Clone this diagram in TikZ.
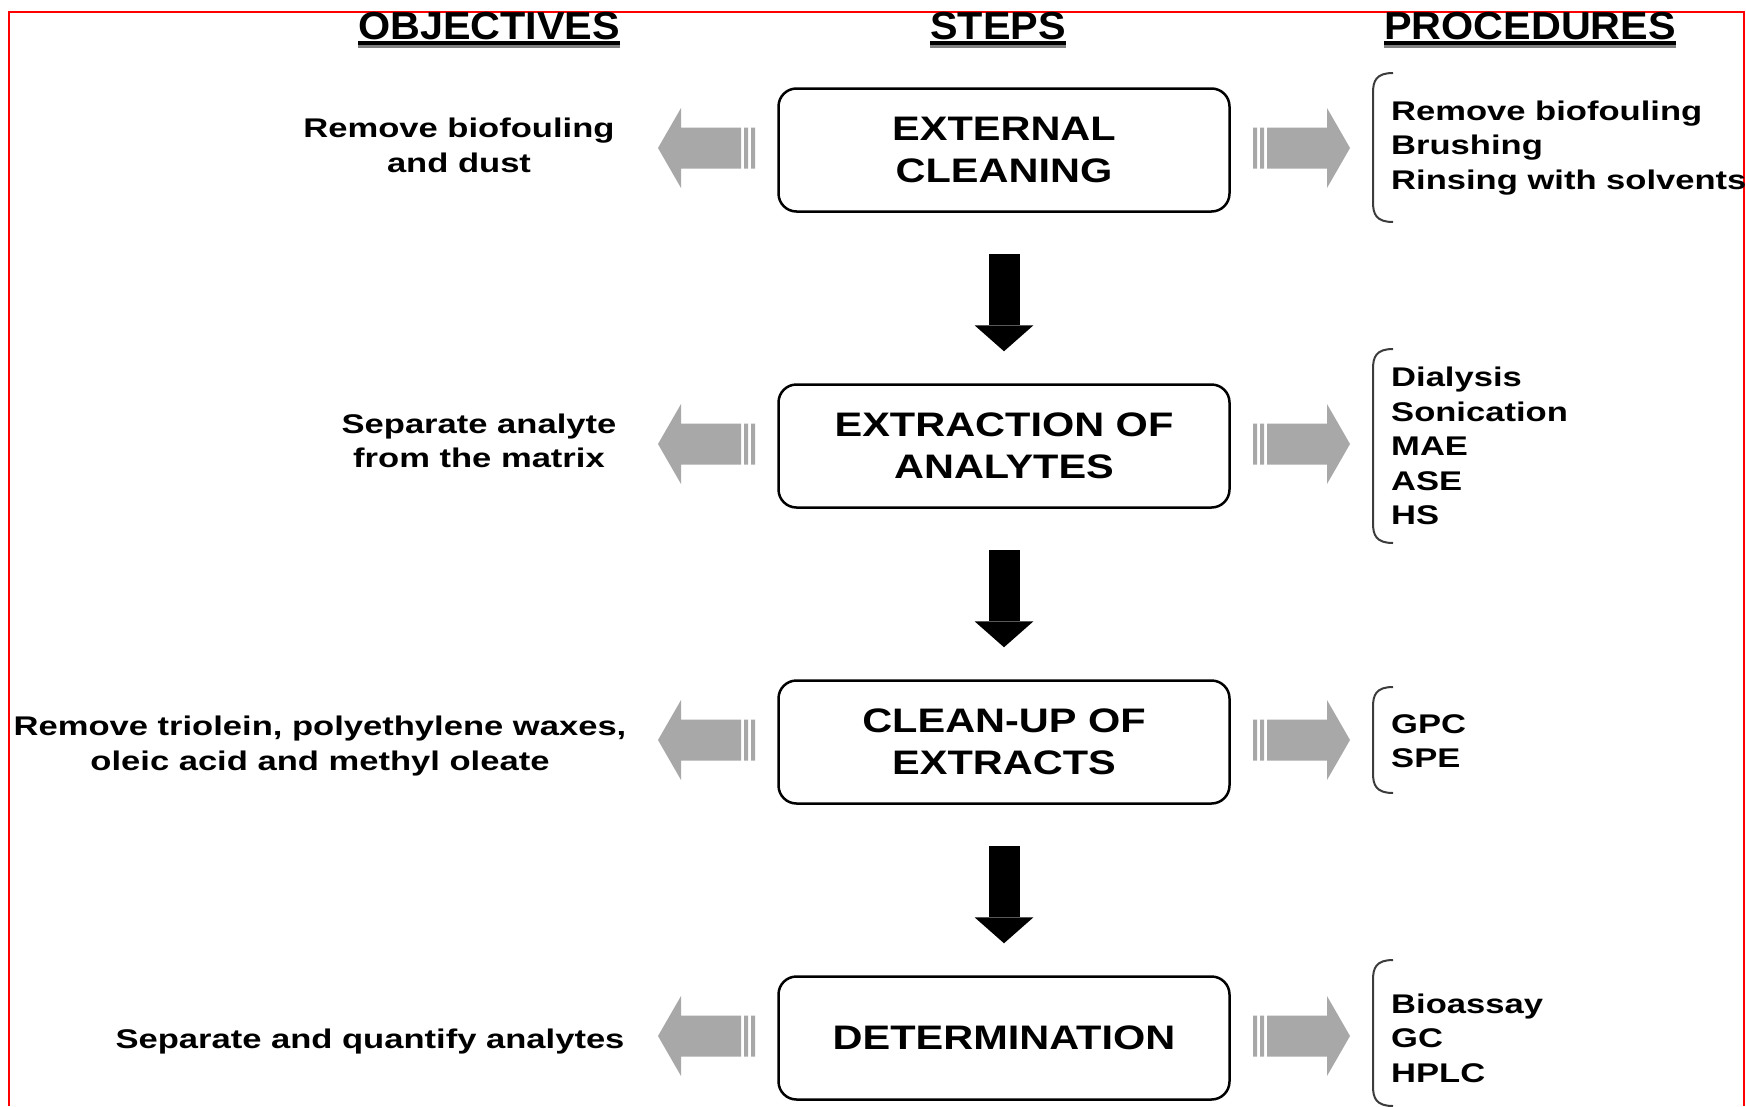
\documentclass[tikz,border=0pt]{standalone}
\usepackage{fontspec}
\setmainfont{Liberation Sans}
\newfontfamily\stepfont{Liberation Sans}[FakeStretch=1.22]
\newfontfamily\sidefont{Liberation Sans}[FakeStretch=1.28]
\newfontfamily\headfont{Liberation Sans}[FakeStretch=1.06]
\usetikzlibrary{arrows.meta}
\definecolor{arrowgray}{RGB}{168,168,168}
\definecolor{bracegray}{RGB}{60,60,60}

\begin{document}
\begin{tikzpicture}[x=1pt,y=-1pt,
  stepbox/.style={draw,line width=2.5pt,rounded corners=18pt,minimum width=451pt,minimum height=123pt,align=center,font=\stepfont\bfseries\fontsize{34}{42.5}\selectfont},
  side/.style={inner sep=0pt,font=\sidefont\bfseries\fontsize{27}{34.5}\selectfont},
  head/.style={inner sep=0pt,anchor=base,font=\headfont\bfseries\fontsize{39}{40}\selectfont},
  flow/.style={line width=31pt,-{Triangle[width=59pt,length=26pt,line width=0pt]}},
  brace/.style={bracegray,line width=2pt}]
 \useasboundingbox (0,0) rectangle (1746,1106);
 \draw[red,line width=2pt] (9,1106) -- (9,12) -- (1744,12) -- (1744,1106);
 \node[head] (hobj) at (489,39) {OBJECTIVES};
 \node[head] (hstep) at (998,39) {STEPS};
 \node[head] (hproc) at (1530,39) {PROCEDURES};
 \foreach \h in {hobj,hstep,hproc} {
  \draw[line width=3.5pt] ([yshift=-3.5pt]\h.south west) -- ([yshift=-3.5pt]\h.south east);
  \draw[gray,line width=2.5pt] ([yshift=-7pt]\h.south west) -- ([yshift=-7pt]\h.south east);
 }
 \node[stepbox] (ext) at (1004,150) {EXTERNAL\\CLEANING};
 \node[stepbox] (extr) at (1004,446) {EXTRACTION OF\\ANALYTES};
 \node[stepbox] (clean) at (1004,742) {CLEAN-UP OF\\EXTRACTS};
 \node[stepbox] (det) at (1004,1038) {DETERMINATION};
 \draw[flow] ([yshift=-41.5pt]ext.south) -- ([yshift=32pt]extr.north);
 \draw[flow] ([yshift=-41.5pt]extr.south) -- ([yshift=32pt]clean.north);
 \draw[flow] ([yshift=-41.5pt]clean.south) -- ([yshift=32pt]det.north);
 \foreach \c in {148,444,740,1036} {
  \fill[arrowgray] (658,\c) -- ++(23,-40) -- ++(0,19.5) -- ++(60,0) -- ++(0,41) -- ++(-60,0) -- ++(0,19.5) -- cycle;
  \fill[arrowgray] (744,\c-20.5) rectangle ++(4,41) (751,\c-20.5) rectangle ++(4,41);
  \fill[arrowgray] (1350,\c) -- ++(-23,-40) -- ++(0,19.5) -- ++(-60,0) -- ++(0,41) -- ++(60,0) -- ++(0,19.5) -- cycle;
  \fill[arrowgray] (1260,\c-20.5) rectangle ++(4,41) (1253,\c-20.5) rectangle ++(4,41);
 }
 \node[side,align=center] (obj1) at (459,145.5) {Remove biofouling\\and dust};
 \node[side,align=center] (obj2) at (479,441) {Separate analyte\\from the matrix};
 \node[side,align=center] (obj3) at (320,746) {Remove triolein, polyethylene waxes,\\oleic acid and methyl oleate};
 \node[side,align=center] (obj4) at (370,1042) {Separate and quantify analytes};
 \node[side,align=left,anchor=west] (proc1) at (1391,148) {Remove biofouling\\Brushing\\Rinsing with solvents};
 \node[side,align=left,anchor=west] (proc2) at (1391,446) {Dialysis\\Sonication\\MAE\\ASE\\HS};
 \node[side,align=left,anchor=west] (proc3) at (1391,741) {GPC\\SPE};
 \node[side,align=left,anchor=west] (proc4) at (1391,1038) {Bioassay\\GC\\HPLC};
 \foreach \c/\h in {147.5/74.5,446/97,740/53,1033/73}
  \draw[brace] (1393,\c-\h) .. controls (1376,\c-\h) and (1373,\c-\h+8) .. (1373,\c-\h+20) -- (1373,\c+\h-20) .. controls (1373,\c+\h-8) and (1376,\c+\h) .. (1393,\c+\h);
\end{tikzpicture}
\end{document}
